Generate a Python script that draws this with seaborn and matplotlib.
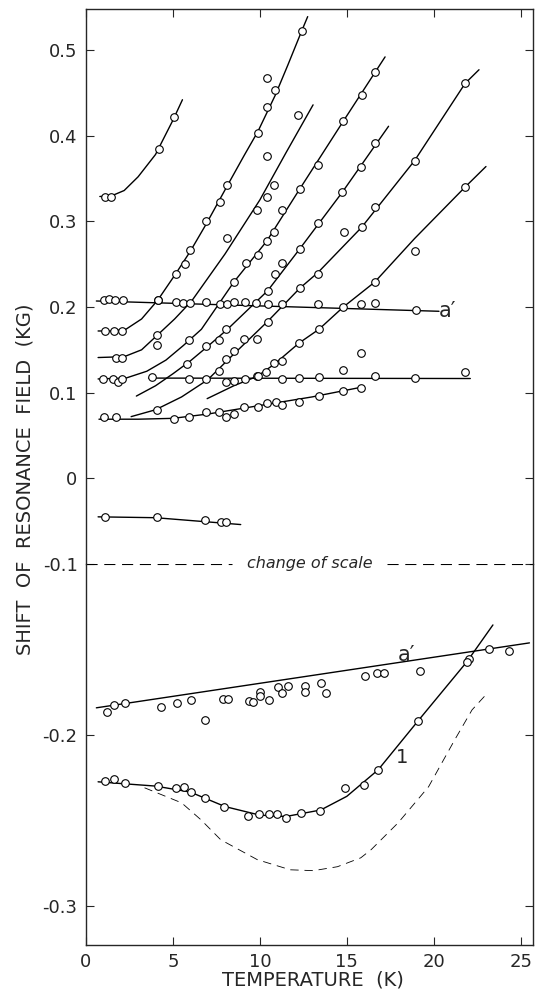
import seaborn as sns
import numpy as np
import matplotlib.pyplot as plt
import pandas as pd

# ---- values: temperature (K) and shift (kG) ----

# upper panel, branch starting at 0.33
c0_t = [1.07, 1.47, 4.19, 5.07]
c0_v = [0.329, 0.329, 0.385, 0.422]
c0_fit_t = [0.8, 1.5, 2.2, 3.0, 4.0, 5.0, 5.55]
c0_fit_v = [0.329, 0.330, 0.336, 0.352, 0.378, 0.418, 0.442]

# branch a' (upper)
ap_t = [1.02, 1.30, 1.66, 2.11, 4.13, 5.16, 5.56, 5.96, 6.88, 7.69, 8.09, 8.49, 9.13,
        9.76, 10.45, 11.25, 13.32, 15.79, 16.60, 18.96]
ap_v = [0.208, 0.209, 0.208, 0.208, 0.208, 0.206, 0.205, 0.205, 0.206, 0.204, 0.204,
        0.206, 0.206, 0.205, 0.203, 0.203, 0.204, 0.204, 0.205, 0.196]
ap_fit_t = [0.6, 20.3]
ap_fit_v = [0.207, 0.195]

# rising branches
r1_t = [1.1, 1.6, 2.1, 4.13, 5.17, 5.70, 5.99, 6.92, 7.73, 8.14, 9.89, 10.42, 10.88, 12.40, 10.43]
r1_v = [0.172, 0.172, 0.172, 0.208, 0.239, 0.250, 0.267, 0.300, 0.323, 0.342, 0.403, 0.434,
        0.453, 0.522, 0.467]
r1_fit_t = [0.7, 1.5, 2.3, 3.2, 4.13, 5.17, 6.0, 6.92, 8.14, 9.1, 9.89, 10.88, 11.6, 12.4, 12.75]
r1_fit_v = [0.172, 0.172, 0.174, 0.186, 0.208, 0.239, 0.265, 0.297, 0.342, 0.377, 0.405,
            0.447, 0.482, 0.522, 0.539]

r2_t = [1.75, 2.09, 4.1, 4.1, 8.13, 9.85, 10.42, 10.83, 12.2, 10.4, 11.29]
r2_v = [0.141, 0.141, 0.167, 0.156, 0.281, 0.313, 0.328, 0.343, 0.424, 0.376, 0.313]
r2_fit_t = [0.7, 2.2, 3.2, 4.1, 5.1, 6.08, 8.0, 10.0, 11.5, 13.06]
r2_fit_v = [0.141, 0.142, 0.150, 0.167, 0.186, 0.207, 0.262, 0.325, 0.380, 0.436]

r3_t = [1.0, 1.55, 1.85, 2.05, 5.94, 8.51, 9.2, 9.9, 10.4, 10.8, 12.29, 13.37, 14.8, 15.87,
        16.6]
r3_v = [0.116, 0.116, 0.113, 0.116, 0.162, 0.229, 0.251, 0.261, 0.277, 0.287, 0.338, 0.366,
        0.417, 0.448, 0.474]
r3_fit_t = [0.7, 2.3, 3.5, 4.6, 5.6, 6.64, 8.5, 10.4, 12.3, 14.8, 17.2]
r3_fit_v = [0.116, 0.117, 0.125, 0.138, 0.155, 0.174, 0.229, 0.277, 0.338, 0.417, 0.492]

r4_t = [5.82, 6.91, 7.66, 8.06, 10.45, 10.87, 11.27, 12.3, 13.33, 14.74, 15.84, 16.6]
r4_v = [0.133, 0.154, 0.162, 0.174, 0.219, 0.239, 0.251, 0.268, 0.298, 0.334, 0.364, 0.392]
r4_fit_t = [2.9, 4.0, 5.0, 6.0, 7.0, 8.14, 10.45, 12.3, 14.74, 17.4]
r4_fit_v = [0.096, 0.108, 0.122, 0.137, 0.154, 0.174, 0.219, 0.268, 0.334, 0.411]

r5_t = [4.08, 7.66, 8.06, 8.52, 9.1, 9.84, 10.44, 12.3, 13.33, 14.85, 15.85, 16.6, 18.9, 21.8]
r5_v = [0.080, 0.125, 0.139, 0.149, 0.163, 0.163, 0.183, 0.222, 0.238, 0.288, 0.293, 0.317,
        0.371, 0.461]
r5_fit_t = [2.6, 4.0, 5.5, 7.0, 8.5, 10.44, 12.3, 13.33, 15.85, 18.9, 21.8, 22.6]
r5_fit_v = [0.072, 0.080, 0.095, 0.115, 0.145, 0.183, 0.222, 0.240, 0.293, 0.371, 0.461, 0.477]

r6_t = [9.84, 10.36, 10.82, 11.28, 12.26, 13.4, 14.8, 16.6, 18.9, 21.8]
r6_v = [0.119, 0.124, 0.135, 0.137, 0.158, 0.174, 0.200, 0.229, 0.265, 0.340]
r6_fit_t = [6.97, 8.5, 9.84, 10.82, 12.26, 13.4, 14.8, 16.6, 18.9, 21.8, 23.0]
r6_fit_v = [0.093, 0.108, 0.119, 0.133, 0.158, 0.174, 0.200, 0.229, 0.280, 0.340, 0.364]

# flat branch near 0.115
fl_t = [3.8, 5.93, 6.9, 8.06, 8.52, 9.15, 9.9, 11.28, 12.25, 13.4, 16.62, 18.92, 14.8, 15.8, 21.8]
fl_v = [0.118, 0.1155, 0.1155, 0.112, 0.114, 0.1155, 0.119, 0.1155, 0.1167, 0.118, 0.119,
        0.1167, 0.126, 0.146, 0.124]
fl_fit_t = [3.6, 22.1]
fl_fit_v = [0.117, 0.1165]

# slowly rising branch near 0.07
lo_t = [1.03, 1.72, 5.05, 5.92, 6.9, 7.64, 8.04, 8.5, 9.08, 9.88, 10.4, 10.9, 11.26, 12.24,
        13.39, 14.77, 15.8]
lo_v = [0.071, 0.071, 0.069, 0.071, 0.077, 0.077, 0.072, 0.075, 0.083, 0.083, 0.0875,
        0.089, 0.086, 0.089, 0.096, 0.1015, 0.106]
lo_fit_t = [0.75, 3.0, 5.0, 7.0, 10.0, 13.0, 16.0]
lo_fit_v = [0.069, 0.069, 0.070, 0.075, 0.085, 0.095, 0.107]

# short negative branch
ng_t = [1.10, 4.09, 6.85, 7.77, 8.06]
ng_v = [-0.0455, -0.0455, -0.049, -0.051, -0.051]
ng_fit_t = [0.7, 4.0, 8.9]
ng_fit_v = [-0.045, -0.046, -0.054]

# lower panel, branch a'
la_t = [1.20, 1.60, 2.23, 4.30, 5.22, 6.02, 6.83, 7.86, 8.15, 9.36, 9.59, 9.99, 9.99, 10.51,
        11.02, 11.25, 11.60, 12.57, 12.57, 13.49, 13.78, 16.02, 16.71, 17.11, 19.18, 22.0,
        23.2, 24.35]
la_v = [-0.1865, -0.1825, -0.1813, -0.1836, -0.1813, -0.1795, -0.1912, -0.1789, -0.1789,
        -0.1801, -0.1807, -0.1749, -0.1772, -0.1795, -0.1719, -0.1754, -0.1713, -0.1713,
        -0.1749, -0.1696, -0.1754, -0.1655, -0.1637, -0.1637, -0.1626, -0.1555, -0.150,
        -0.1509]
la_fit_t = [0.6, 25.5]
la_fit_v = [-0.1842, -0.1462]

# lower panel, branch 1
b1_t = [1.10, 1.62, 2.25, 4.14, 5.18, 5.64, 6.04, 6.85, 7.93, 9.31, 9.94, 10.52, 10.98, 11.49,
        12.36, 13.45, 14.9, 16.0, 16.8, 19.1, 21.9]
b1_v = [-0.2269, -0.2257, -0.2281, -0.2298, -0.2310, -0.2304, -0.2333, -0.2368, -0.2421,
        -0.2474, -0.2462, -0.2462, -0.2462, -0.2485, -0.2456, -0.2444, -0.231, -0.2292,
        -0.2205, -0.1918, -0.1573]
b1_fit_t = [0.7, 2.0, 4.0, 6.0, 8.0, 10.0, 11.5, 13.5, 15.0, 16.8, 19.1, 21.9, 23.4]
b1_fit_v = [-0.2275, -0.2285, -0.2300, -0.2335, -0.2420, -0.2470, -0.2478, -0.2440, -0.2360,
            -0.2205, -0.1918, -0.1573, -0.1357]

# lower panel, calculated (dashed) curve
th_t = [3.37, 5.5, 6.61, 7.75, 9.86, 11.75, 13.08, 14.46, 15.8, 16.4, 17.95, 19.7, 21.2, 22.2, 23.1]
th_v = [-0.231, -0.2398, -0.2497, -0.2614, -0.2731, -0.279, -0.2795, -0.2772, -0.272, -0.2672,
        -0.2515, -0.2304, -0.203, -0.1854, -0.1754]

upper_ticks = [0.5, 0.4, 0.3, 0.2, 0.1, 0]
upper_labels = ["0.5", "0.4", "0.3", "0.2", "0.1", "0"]
lower_ticks = [-0.1, -0.2, -0.3]
lower_labels = ["-0.1", "-0.2", "-0.3"]
x_ticks = [0, 5, 10, 15, 20, 25]

sns.set_style("ticks")
plt.rcParams['font.family'] = ['DejaVu Sans']

fig = plt.figure(figsize=(5.37, 9.92), dpi=100)
ax_top = fig.add_axes([0.160, 0.4315, 0.8324, 0.5595])
ax_bot = fig.add_axes([0.160, 0.0474, 0.8324, 0.3841])

line_kw = dict(color="black", linewidth=1.0, sort=False, estimator=None, legend=False)
pt_kw = dict(marker="o", s=30, facecolor="white", edgecolor="black", linewidth=0.8,
             zorder=3, legend=False)


def draw(ax, fit_t, fit_v, pts_t=None, pts_v=None):
    sns.lineplot(x=fit_t, y=fit_v, ax=ax, **line_kw)
    if pts_t is not None:
        sns.scatterplot(x=pts_t, y=pts_v, ax=ax, **pt_kw)


draw(ax_top, c0_fit_t, c0_fit_v, c0_t, c0_v)
draw(ax_top, ap_fit_t, ap_fit_v, ap_t, ap_v)
draw(ax_top, r1_fit_t, r1_fit_v, r1_t, r1_v)
draw(ax_top, r2_fit_t, r2_fit_v, r2_t, r2_v)
draw(ax_top, r3_fit_t, r3_fit_v, r3_t, r3_v)
draw(ax_top, r4_fit_t, r4_fit_v, r4_t, r4_v)
draw(ax_top, r5_fit_t, r5_fit_v, r5_t, r5_v)
draw(ax_top, r6_fit_t, r6_fit_v, r6_t, r6_v)
draw(ax_top, fl_fit_t, fl_fit_v, fl_t, fl_v)
draw(ax_top, lo_fit_t, lo_fit_v, lo_t, lo_v)
draw(ax_top, ng_fit_t, ng_fit_v, ng_t, ng_v)

draw(ax_bot, la_fit_t, la_fit_v, la_t, la_v)
draw(ax_bot, b1_fit_t, b1_fit_v, b1_t, b1_v)
ax_bot.plot(th_t, th_v, color="black", linewidth=0.6, dashes=(10, 7))

# change of scale marker
ax_bot.plot([0, 8.4], [-0.1, -0.1], color="black", linewidth=0.8, dashes=(10, 6))
ax_bot.plot([17.3, 25.7], [-0.1, -0.1], color="black", linewidth=0.8, dashes=(10, 6))
ax_bot.text(12.85, -0.1, "change of scale", style="italic", fontsize=11.5,
            ha="center", va="center")

ax_top.text(20.3, 0.195, "a\u2032", fontsize=15, ha="left", va="center")
ax_bot.text(17.9, -0.153, "a\u2032", fontsize=15, ha="left", va="center")
ax_bot.text(18.2, -0.213, "1", fontsize=14, ha="center", va="center")

for ax in (ax_top, ax_bot):
    ax.set_xlim(0, 25.7)
    ax.set_xticks(x_ticks)
    ax.set_xlabel("")
    ax.set_ylabel("")
    ax.tick_params(direction="in", length=6, width=0.8, top=True, right=True,
                   labelsize=13, pad=6)
    for s in ax.spines.values():
        s.set_linewidth(1.0)

ax_top.set_ylim(-0.1, 0.548)
ax_top.set_yticks(upper_ticks)
ax_top.set_yticklabels(upper_labels)
ax_top.tick_params(bottom=False, labelbottom=False)
ax_top.spines["bottom"].set_visible(False)

ax_bot.set_ylim(-0.323, -0.1)
ax_bot.set_yticks(lower_ticks)
ax_bot.set_yticklabels(lower_labels)
ax_bot.tick_params(top=False)
ax_bot.spines["top"].set_visible(False)

fig.text(25 / 537, 1 - 479 / 992, "SHIFT  OF  RESONANCE  FIELD  (KG)", rotation=90,
         ha="center", va="center", fontsize=14)
fig.text(313 / 537, 1 - 980 / 992, "TEMPERATURE  (K)", ha="center", va="center",
         fontsize=14)

fig.savefig("out.png", dpi=100)
